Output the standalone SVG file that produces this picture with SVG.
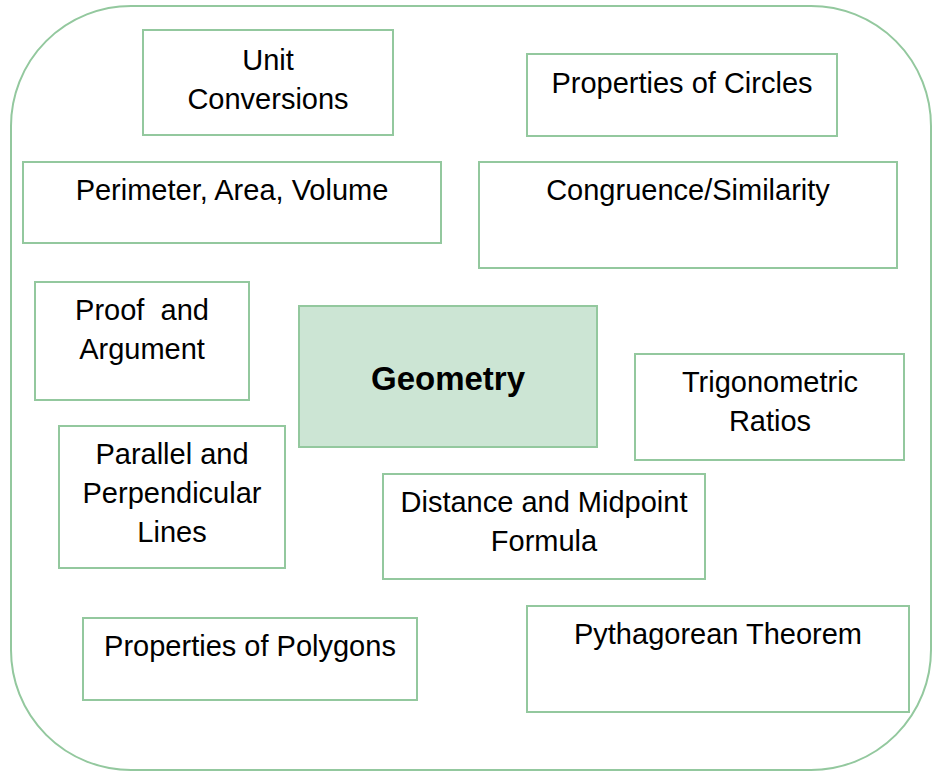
<svg xmlns="http://www.w3.org/2000/svg" width="940" height="772" viewBox="0 0 940 772">
<style>
.box{fill:#ffffff;stroke:#93c89e;stroke-width:2}
.hub{fill:#cce5d4;stroke:#93c89e;stroke-width:2}
.t{font-family:"Liberation Sans",Arial,sans-serif;font-size:29px;fill:#000;text-anchor:middle}
.b{font-family:"Liberation Sans",Arial,sans-serif;font-size:33px;font-weight:bold;fill:#000;text-anchor:middle}
</style>
<rect width="940" height="772" fill="#ffffff"/>
<rect id="frame" x="11" y="6" width="920" height="764" rx="120" ry="120" fill="none" stroke="#93c89e" stroke-width="2"/>
<g id="connectors"></g>
<g id="unit-conversions">
<rect class="box" x="143" y="30" width="250" height="105"/>
<text class="t" x="268" y="70">Unit</text>
<text class="t" x="268" y="109">Conversions</text>
</g>
<g id="properties-circles">
<rect class="box" x="527" y="54" width="310" height="82"/>
<text class="t" x="682" y="93">Properties of Circles</text>
</g>
<g id="perimeter-area-volume">
<rect class="box" x="23" y="162" width="418" height="81"/>
<text class="t" x="232" y="200">Perimeter, Area, Volume</text>
</g>
<g id="congruence-similarity">
<rect class="box" x="479" y="162" width="418" height="106"/>
<text class="t" x="688" y="200">Congruence/Similarity</text>
</g>
<g id="proof-argument">
<rect class="box" x="35" y="282" width="214" height="118"/>
<text class="t" x="142" y="320" xml:space="preserve">Proof  and</text>
<text class="t" x="142" y="359">Argument</text>
</g>
<g id="geometry">
<rect class="hub" x="299" y="306" width="298" height="141"/>
<text class="b" x="448" y="390">Geometry</text>
</g>
<g id="trigonometric-ratios">
<rect class="box" x="635" y="354" width="269" height="106"/>
<text class="t" x="770" y="392">Trigonometric</text>
<text class="t" x="770" y="431">Ratios</text>
</g>
<g id="parallel-perpendicular">
<rect class="box" x="59" y="426" width="226" height="142"/>
<text class="t" x="172" y="464">Parallel and</text>
<text class="t" x="172" y="503">Perpendicular</text>
<text class="t" x="172" y="542">Lines</text>
</g>
<g id="distance-midpoint">
<rect class="box" x="383" y="474" width="322" height="105"/>
<text class="t" x="544" y="512">Distance and Midpoint</text>
<text class="t" x="544" y="551">Formula</text>
</g>
<g id="properties-polygons">
<rect class="box" x="83" y="618" width="334" height="82"/>
<text class="t" x="250" y="656">Properties of Polygons</text>
</g>
<g id="pythagorean-theorem">
<rect class="box" x="527" y="606" width="382" height="106"/>
<text class="t" x="718" y="644">Pythagorean Theorem</text>
</g>
</svg>
